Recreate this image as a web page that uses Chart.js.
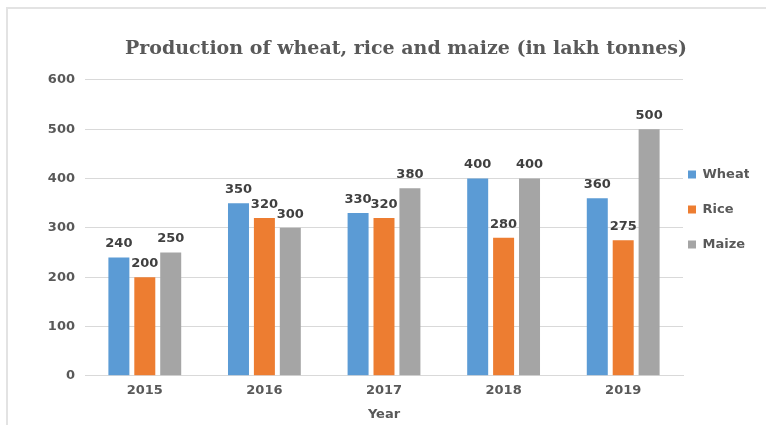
<!DOCTYPE html>
<html>
<head>
<meta charset="utf-8">
<script src="https://cdn.jsdelivr.net/npm/chart.js@4/dist/chart.umd.min.js"></script>
<style>
  html, body { margin: 0; padding: 0; background: #fff; }
  #wrap { position: relative; width: 766px; height: 425px; overflow: hidden; }
  #frame { position: absolute; left: 6px; top: 7px; right: -10px; bottom: -10px;
           border-top: 2px solid #e3e3e3; border-left: 2px solid #e3e3e3; }
  canvas { position: absolute; left: 0; top: 0; }
</style>
</head>
<body>
<div id="wrap">
  <div id="frame"></div>
  <canvas id="chart" width="766" height="425"></canvas>
</div>
<script>
const years = ["2015", "2016", "2017", "2018", "2019"]
const wheat = [240, 350, 330, 400, 360]
const rice = [200, 320, 320, 280, 275]
const maize = [250, 300, 380, 400, 500]

const textGray = "#595959"
const labelGray = "#404040"
const sans = "'DejaVu Sans', Verdana, sans-serif"

// values above each bar
const barLabels = {
  id: "barLabels",
  afterDatasetsDraw(chart) {
    const ctx = chart.ctx
    ctx.save()
    ctx.font = `bold 13px ${sans}`
    ctx.fillStyle = labelGray
    ctx.textAlign = "center"
    ctx.textBaseline = "alphabetic"
    chart.data.datasets.forEach((ds, i) => {
      chart.getDatasetMeta(i).data.forEach((bar, j) => {
        ctx.fillText(String(ds.data[j]), bar.x, bar.y - 10)
      })
    })
    ctx.restore()
  }
}

// legend sits close to the plot, a bit above the middle
const legendPlace = {
  id: "legendPlace",
  afterLayout(chart) {
    const lg = chart.legend
    if (!lg) return
    const w = lg.right - lg.left
    lg.left = chart.chartArea.right - 17
    lg.right = lg.left + w
    lg.top = 146
    lg.bottom = chart.height
  }
}

new Chart(document.getElementById("chart"), {
  type: "bar",
  data: {
    labels: years,
    datasets: [
      { label: "Wheat", data: wheat, backgroundColor: "#5B9BD5" },
      { label: "Rice", data: rice, backgroundColor: "#ED7D31" },
      { label: "Maize", data: maize, backgroundColor: "#A5A5A5" }
    ]
  },
  options: {
    responsive: false,
    animation: false,
    devicePixelRatio: 1,
    datasets: { bar: { barPercentage: 0.81, categoryPercentage: 0.65 } },
    layout: { padding: { left: 46, right: 0, top: 0, bottom: 0 } },
    plugins: {
      title: {
        display: true,
        text: "Production of wheat, rice and maize (in lakh tonnes)",
        color: textGray,
        font: { family: "'DejaVu Serif', serif", size: 19, weight: "bold" },
        padding: { top: 38, bottom: 19 }
      },
      legend: {
        position: "right",
        align: "start",
        maxWidth: 83,
        labels: {
          boxWidth: 8,
          boxHeight: 8,
          padding: 22,
          color: textGray,
          font: { family: sans, size: 13, weight: "bold" }
        }
      },
      tooltip: { enabled: false }
    },
    scales: {
      x: {
        grid: { display: false, drawTicks: false },
        border: { display: true, color: "#d9d9d9" },
        ticks: { color: textGray, padding: 7, font: { family: sans, size: 13, weight: "bold" } },
        title: {
          display: true,
          text: "Year",
          color: textGray,
          font: { family: sans, size: 13, weight: "bold" },
          padding: { top: 1, bottom: 3 }
        }
      },
      y: {
        min: 0,
        max: 600,
        afterFit: scale => { scale.width = 39 },
        ticks: { stepSize: 100, color: textGray, padding: 10, font: { family: sans, size: 13, weight: "bold" } },
        grid: { color: "#d9d9d9", drawTicks: false },
        border: { display: false }
      }
    }
  },
  plugins: [barLabels, legendPlace]
})
</script>
</body>
</html>
